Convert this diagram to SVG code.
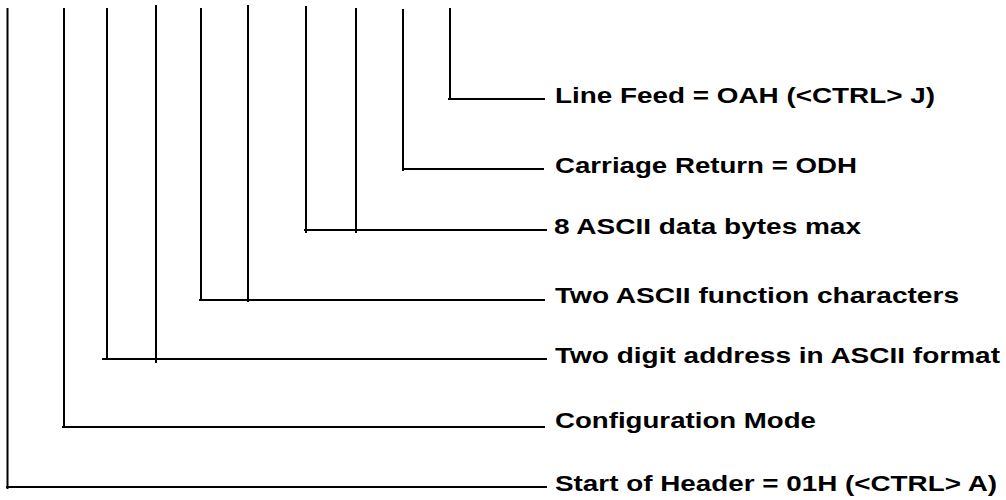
<svg xmlns="http://www.w3.org/2000/svg" width="1006" height="500" viewBox="0 0 1006 500">
  <style>
    .ln { stroke: #000; stroke-width: 2; fill: none; stroke-linecap: butt; }
    .lbl { font-family: "Liberation Sans", Arial, sans-serif; font-weight: bold; font-size: 22px; fill: #000; }
  </style>
  <rect width="1006" height="500" fill="#fff"/>
  <g id="connectors">
    <!-- vertical ticks -->
    <line class="ln" x1="7.5" y1="8" x2="7.5" y2="489"/>
    <line class="ln" x1="64" y1="8" x2="64" y2="428"/>
    <line class="ln" x1="107" y1="8" x2="107" y2="360"/>
    <line class="ln" x1="156" y1="5" x2="156" y2="363"/>
    <line class="ln" x1="201" y1="8" x2="201" y2="300"/>
    <line class="ln" x1="248" y1="5" x2="248" y2="302"/>
    <line class="ln" x1="306" y1="6" x2="306" y2="233"/>
    <line class="ln" x1="356" y1="8" x2="356" y2="233"/>
    <line class="ln" x1="403" y1="9" x2="403" y2="171"/>
    <line class="ln" x1="450" y1="8" x2="450" y2="99"/>
    <!-- horizontal leaders -->
    <line class="ln" x1="448" y1="99" x2="545" y2="99"/>
    <line class="ln" x1="402" y1="169" x2="544" y2="169"/>
    <line class="ln" x1="304" y1="230" x2="547" y2="230"/>
    <line class="ln" x1="199" y1="300" x2="545" y2="300"/>
    <line class="ln" x1="102" y1="359" x2="547" y2="359"/>
    <line class="ln" x1="62" y1="427" x2="545" y2="427"/>
    <line class="ln" x1="6" y1="487" x2="547" y2="487"/>
  </g>
  <g id="node-lf"><text class="lbl" x="555" y="103" textLength="380" lengthAdjust="spacingAndGlyphs">Line Feed = OAH (&lt;CTRL&gt; J)</text></g>
  <g id="node-cr"><text class="lbl" x="555" y="173" textLength="302" lengthAdjust="spacingAndGlyphs">Carriage Return = ODH</text></g>
  <g id="node-data"><text class="lbl" x="554" y="234" textLength="307" lengthAdjust="spacingAndGlyphs">8 ASCII data bytes max</text></g>
  <g id="node-func"><text class="lbl" x="555" y="303" textLength="404" lengthAdjust="spacingAndGlyphs">Two ASCII function characters</text></g>
  <g id="node-addr"><text class="lbl" x="555" y="363" textLength="445" lengthAdjust="spacingAndGlyphs">Two digit address in ASCII format</text></g>
  <g id="node-mode"><text class="lbl" x="555" y="428" textLength="261" lengthAdjust="spacingAndGlyphs">Configuration Mode</text></g>
  <g id="node-soh"><text class="lbl" x="555" y="491" textLength="442" lengthAdjust="spacingAndGlyphs">Start of Header = 01H (&lt;CTRL&gt; A)</text></g>
</svg>
